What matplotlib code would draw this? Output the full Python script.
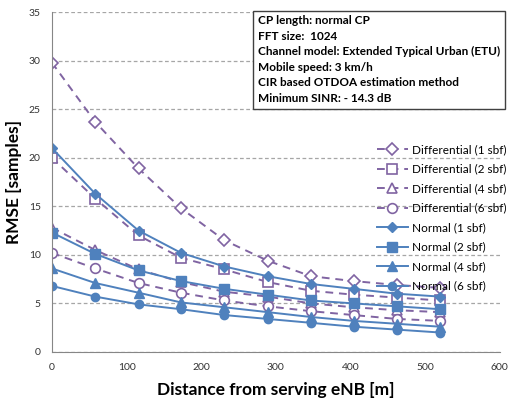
import matplotlib.pyplot as plt
import numpy as np

plt.rcParams['font.family'] = ['Lato', 'DejaVu Sans']

# distance from serving eNB [m]
dist = [0, 58, 116, 173, 231, 289, 347, 404, 462, 520]

diff_1 = [29.8, 23.7, 18.9, 14.8, 11.5, 9.4, 7.8, 7.3, 6.9, 6.6]
diff_2 = [20.0, 15.8, 12.0, 9.7, 8.5, 7.2, 6.3, 5.9, 5.6, 5.3]
diff_4 = [12.8, 10.5, 8.5, 7.2, 6.2, 5.7, 5.0, 4.6, 4.3, 4.1]
diff_6 = [10.2, 8.6, 7.1, 6.1, 5.3, 4.7, 4.2, 3.8, 3.4, 3.2]
norm_1 = [21.0, 16.3, 12.5, 10.2, 8.8, 7.8, 7.0, 6.5, 6.0, 5.7]
norm_2 = [12.3, 10.1, 8.4, 7.3, 6.5, 5.9, 5.3, 5.0, 4.7, 4.4]
norm_4 = [8.6, 7.1, 6.1, 5.1, 4.6, 4.1, 3.6, 3.2, 2.9, 2.6]
norm_6 = [6.8, 5.7, 4.9, 4.4, 3.8, 3.4, 3.0, 2.6, 2.3, 2.0]

purple = '#8064A2'
blue = '#4F81BD'

fig = plt.figure(figsize=(5.09, 4.05), dpi=100)
ax = fig.add_axes([0.102, 0.131, 0.880, 0.839])

dstyle = dict(color=purple, ls=(0, (4, 3)), lw=1.4, mfc='white', mec=purple, mew=1.2)
ax.plot(dist, diff_1, marker='D', ms=6, label='Differential (1 sbf)', **dstyle)
ax.plot(dist, diff_2, marker='s', ms=7, label='Differential (2 sbf)', **dstyle)
ax.plot(dist, diff_4, marker='^', ms=7, label='Differential (4 sbf)', **dstyle)
ax.plot(dist, diff_6, marker='o', ms=7, label='Differential (6 sbf)', **dstyle)

nstyle = dict(color=blue, lw=1.4, mfc=blue, mec=blue)
ax.plot(dist, norm_1, marker='D', ms=5, label='Normal (1 sbf)', **nstyle)
ax.plot(dist, norm_2, marker='s', ms=7, label='Normal (2 sbf)', **nstyle)
ax.plot(dist, norm_4, marker='^', ms=7, label='Normal (4 sbf)', **nstyle)
ax.plot(dist, norm_6, marker='o', ms=6, label='Normal (6 sbf)', **nstyle)

ax.set_xlim(0, 600)
ax.set_ylim(0, 35)
ax.set_xticks(np.arange(0, 601, 100))
ax.set_yticks(np.arange(0, 36, 5))
ax.yaxis.grid(True, ls=(0, (3, 2)), color='#A6A6A6', lw=0.9)
ax.set_axisbelow(True)
for s in ['top', 'right']:
    ax.spines[s].set_visible(False)
for s in ['left', 'bottom']:
    ax.spines[s].set_color('#868686')
ax.tick_params(length=0, labelsize=7.5, colors='#333333', pad=8)

ax.set_xlabel('Distance from serving eNB [m]', fontsize=12.5, fontweight='bold', labelpad=7)
ax.set_ylabel('RMSE [samples]', fontsize=12.5, fontweight='bold', labelpad=5)

ax.legend(loc='upper left', bbox_to_anchor=(0.715, 0.625), frameon=False,
          fontsize=8.5, handlelength=2.6, labelspacing=0.72, borderaxespad=0,
          handletextpad=0.4)

info = ('CP length: normal CP\nFFT size:  1024\n'
        'Channel model: Extended Typical Urban (ETU)\nMobile speed: 3 km/h\n'
        'CIR based OTDOA estimation method\nMinimum SINR: - 14.3 dB')
fig.text(0.507, 0.962, info, fontsize=8.5, fontweight='bold', va='top', ha='left',
         linespacing=1.5,
         bbox=dict(boxstyle='square,pad=0.4', fc='white', ec='#404040', lw=1))

fig.savefig('out.png', dpi=100)
